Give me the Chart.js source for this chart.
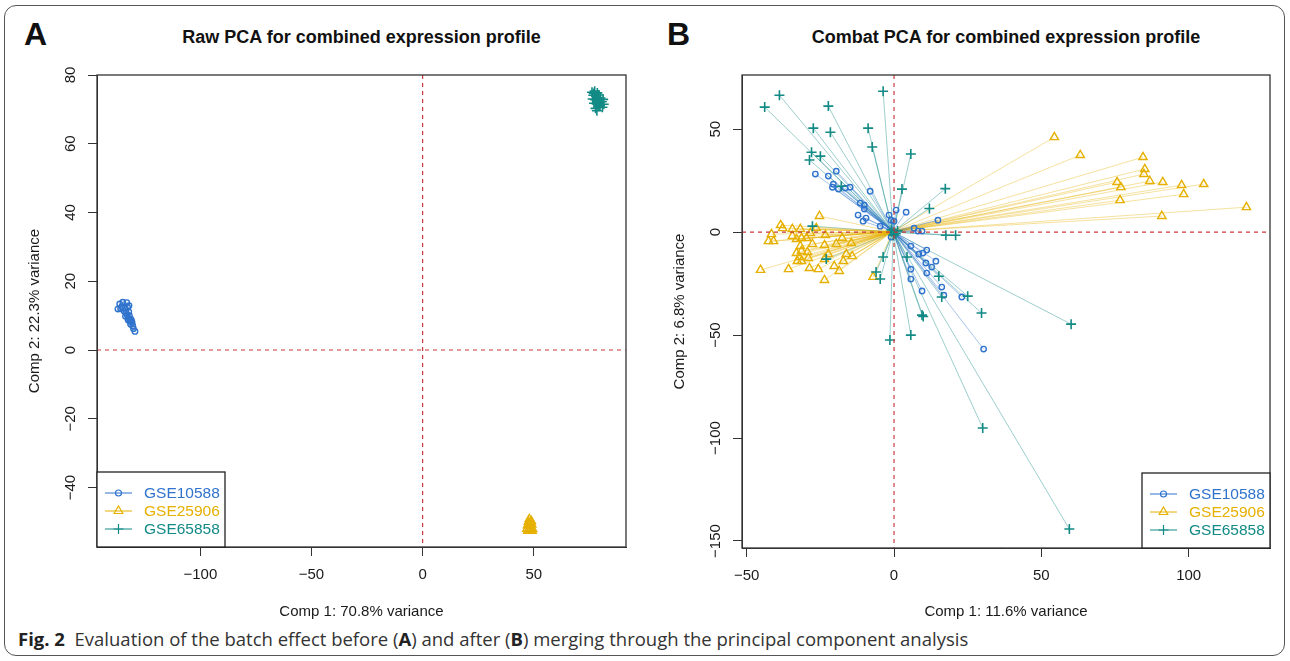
<!DOCTYPE html>
<html>
<head>
<meta charset="utf-8">
<script src="https://cdn.jsdelivr.net/npm/chart.js@4.4.1/dist/chart.umd.min.js"></script>
<style>
  body { margin: 0; background: #fff; width: 1290px; height: 661px; overflow: hidden; position: relative; font-family: "Liberation Sans", Arial, sans-serif; color: #111; }
  .frame { position: absolute; left: 4px; top: 5px; width: 1281px; height: 651px; border: 1.5px solid #555; border-radius: 12px; box-sizing: border-box; }
  .panel { position: absolute; top: 0; width: 645px; height: 625px; }
  .letter { position: absolute; top: 16px; font-weight: bold; font-size: 32px; }
  .title { position: absolute; top: 27px; font-weight: bold; font-size: 18px; text-align: center; }
  .caption { position: absolute; left: 18px; top: 626px; font-family: "Open Sans", sans-serif; font-size: 18.5px; color: #333; white-space: nowrap; }
  .caption b { color: #222; }
</style>
</head>
<body>
<div class="frame"></div>
<div class="letter" style="left:24px">A</div>
<div class="letter" style="left:667px">B</div>
<div class="title" style="left:97px;width:529px">Raw PCA for combined expression profile</div>
<div class="title" style="left:742px;width:528px">Combat PCA for combined expression profile</div>
<div class="panel" style="left:0"><canvas id="rawChart"></canvas></div>
<div class="panel" style="left:645px"><canvas id="combatChart"></canvas></div>
<div class="caption"><b>Fig. 2</b>&nbsp; Evaluation of the batch effect before (<b>A</b>) and after (<b>B</b>) merging through the principal component analysis</div>

<script>
// groups + colours
const groups = ["GSE10588", "GSE25906", "GSE65858"];
const groupColors = ["#2F73CD", "#E6B000", "#128A85"];
const groupLineColors = ["rgba(47,115,205,0.42)", "rgba(230,176,0,0.38)", "rgba(18,138,133,0.42)"];
const groupStyles = ["circle", "triangle", "cross"];

// --- Raw PCA (panel A) ---
const rawXLabel = "Comp 1: 70.8% variance";
const rawYLabel = "Comp 2: 22.3% variance";
const rawXTicks = [-100, -50, 0, 50];
const rawYTicks = [-40, -20, 0, 20, 40, 60, 80];
const rawXRange = [-146.5, 91.5];
const rawYRange = [-57.3, 80];
const rawCentroids = [[-133.0, 10.2], [48.3, -51.3], [78.6, 72.6]];
const rawBlue = [[-137.1,11.9],[-136.3,13.4],[-134.9,13.9],[-133.1,13.8],[-135.4,12.6],[-134.0,12.2],[-132.7,12.4],[-134.3,11.3],[-133.4,10.9],[-132.2,11.1],[-133.0,10.2],[-131.9,10.0],[-133.7,9.8],[-132.4,9.3],[-131.3,9.0],[-131.7,8.4],[-130.7,8.0],[-132.5,8.7],[-131.4,7.5],[-130.4,7.0],[-130.1,6.2],[-129.4,5.4],[-131.0,8.6],[-132.1,12.9],[-135.9,12.0]];
const rawYellow = [[48.0,-49.2],[47.6,-50.0],[48.6,-50.1],[47.2,-51.0],[48.2,-51.0],[49.1,-50.8],[46.9,-52.0],[47.8,-52.0],[48.7,-51.9],[49.5,-52.1],[47.3,-52.6],[48.3,-52.5],[49.2,-52.6],[48.9,-49.8],[47.9,-50.6]];
const rawTeal = [[76.2,75.0],[77.4,75.3],[78.6,74.8],[76.8,74.1],[78.0,73.9],[79.3,74.2],[76.5,73.0],[77.6,72.8],[78.8,73.1],[80.0,73.3],[77.1,71.8],[78.3,71.6],[79.5,72.0],[80.6,72.2],[81.5,71.5],[80.9,70.6],[79.2,70.9],[77.8,70.3],[78.4,69.6],[81.2,72.9],[77.0,74.6],[79.8,71.2]];

// --- Combat PCA (panel B) ---
const combatXLabel = "Comp 1: 11.6% variance";
const combatYLabel = "Comp 2: 6.8% variance";
const combatXTicks = [-50, 0, 50, 100];
const combatYTicks = [-150, -100, -50, 0, 50];
const combatXRange = [-51.6, 127.6];
const combatYRange = [-153.4, 76.3];
const combatCentroids = [[-0.4, 0.4], [-0.6, 0.2], [-0.3, 0.0]];
const combatBlue = [[-26.7,28.2],[-22.3,27.2],[-19.6,29.6],[-20.6,23.3],[-20.9,21.8],[-18.9,20.9],[-16.6,21.4],[-14.9,21.8],[-8.1,19.9],[-11.5,14.1],[-10.1,13.1],[-10.1,11.2],[-12.2,8.3],[-9.5,6.8],[-10.5,5.3],[-1.7,8.3],[0.7,10.7],[4.1,9.7],[-4.7,2.9],[-1.0,5.8],[0.0,5.3],[14.9,5.8],[6.8,1.9],[8.1,0.5],[9.5,0.5],[-1.0,-2.4],[5.7,-6.8],[8.4,-10.7],[9.8,-10.2],[11.1,-8.7],[10.8,-15.0],[12.8,-17.0],[14.2,-14.1],[5.7,-18.0],[11.1,-19.9],[5.7,-22.8],[16.2,-26.7],[9.5,-28.6],[16.9,-30.6],[23.0,-31.5],[30.4,-56.8]];
const combatYellow = [[54.4,46.1],[63.2,37.4],[84.5,36.4],[85.1,30.6],[84.8,28.2],[75.7,24.3],[77.0,21.8],[86.8,24.8],[91.2,24.3],[97.6,22.8],[105.1,23.3],[98.3,18.4],[76.7,15.5],[119.6,12.1],[90.9,7.8],
  [-25.3,7.8],[-38.5,3.4],[-37.8,1.9],[-34.5,1.5],[-31.8,1.5],[-26.4,1.9],[-41.6,-1.0],[-42.6,-4.4],[-40.9,-4.4],[-34.5,-1.9],[-31.4,-2.9],[-28.4,-0.5],[-23.3,-1.5],[-33.1,-3.4],[-29.7,-2.9],[-27.7,-5.8],[-23.6,-6.3],[-19.6,-5.8],[-17.6,-2.9],[-14.5,-5.3],[-31.8,-6.8],[-31.4,-9.2],[-33.1,-10.2],[-32.1,-12.1],[-29.4,-9.7],[-29.1,-12.6],[-32.8,-14.1],[-31.4,-14.1],[-23.6,-13.1],[-22.3,-10.7],[-16.2,-10.7],[-14.2,-11.7],[-17.2,-14.1],[-45.3,-18.4],[-35.8,-18.0],[-28.7,-17.5],[-25.7,-18.0],[-20.3,-16.5],[-18.6,-18.9],[-23.6,-23.3],[-7.1,-21.8]];
const combatTeal = [[-43.9,60.7],[-38.9,66.5],[-22.3,61.2],[-3.7,68.4],[-27.4,50.5],[-21.6,48.5],[-8.8,50.5],[-7.4,41.3],[5.7,37.9],[-28.0,38.8],[-28.7,35.0],[-25.0,36.9],[2.7,20.9],[17.4,21.1],[12.0,11.5],[-17.9,22.3],[-27.7,2.9],[17.6,-1.5],[20.9,-1.5],[-23.0,-13.1],[-3.7,-12.1],[-6.1,-19.4],[-4.7,-22.8],[4.4,-12.1],[15.2,-21.4],[16.2,-31.5],[25.0,-31.1],[29.7,-39.3],[9.5,-40.3],[9.9,-41.0],[5.7,-50.0],[-1.4,-52.4],[60.1,-44.7],[30.1,-95.1],[59.5,-144.2],[0.6,-0.8],[-0.9,1.1],[1.2,0.6],[-0.2,-1.6]];

const refLineColor = "#C8393B";
const axisFont = "'Liberation Sans', Arial, sans-serif";
const minus = v => v < 0 ? "\u2212" + Math.abs(v) : String(v);

function markerPath(ctx, style, x, y, r) {
  ctx.beginPath();
  if (style === "circle") {
    ctx.arc(x, y, r, 0, Math.PI * 2);
  } else if (style === "triangle") {
    ctx.moveTo(x, y - r);
    ctx.lineTo(x + r * 0.87, y + r * 0.5);
    ctx.lineTo(x - r * 0.87, y + r * 0.5);
    ctx.closePath();
  } else {
    ctx.moveTo(x - r, y); ctx.lineTo(x + r, y);
    ctx.moveTo(x, y - r); ctx.lineTo(x, y + r);
  }
  ctx.stroke();
}

// red dashed zero lines, frame box, rotated y labels, R style legend
const rDecor = {
  id: "rDecor",
  afterDatasetsDraw(chart, args, opts) {
    const { ctx, chartArea: a, scales } = chart;
    ctx.save();
    ctx.strokeStyle = refLineColor;
    ctx.lineWidth = 1.2;
    ctx.setLineDash([4, 4]);
    const x0 = scales.x.getPixelForValue(0), y0 = scales.y.getPixelForValue(0);
    ctx.beginPath();
    ctx.moveTo(x0, a.top); ctx.lineTo(x0, a.bottom);
    ctx.moveTo(a.left, y0); ctx.lineTo(a.right, y0);
    ctx.stroke();
    ctx.setLineDash([]);

    ctx.strokeStyle = "#333";
    ctx.lineWidth = 1.3;
    ctx.strokeRect(a.left, a.top, a.right - a.left, a.bottom - a.top);

    // y tick labels, parallel to the axis
    ctx.fillStyle = "#1a1a1a";
    ctx.font = "15px " + axisFont;
    ctx.textAlign = "center";
    ctx.textBaseline = "middle";
    scales.y.ticks.forEach(t => {
      const py = scales.y.getPixelForValue(t.value);
      ctx.save();
      ctx.translate(a.left - 26, py);
      ctx.rotate(-Math.PI / 2);
      ctx.fillText(minus(t.value), 0, 0);
      ctx.restore();
    });

    // legend
    const w = 128, h = 75;
    const bx = opts.corner === "bottomleft" ? a.left : a.right - w;
    const by = a.bottom - h;
    ctx.fillStyle = "#fff";
    ctx.fillRect(bx, by, w, h);
    ctx.strokeStyle = "#222";
    ctx.lineWidth = 1.3;
    ctx.strokeRect(bx, by, w, h);
    ctx.font = "15.5px " + axisFont;
    ctx.textAlign = "left";
    groups.forEach((g, i) => {
      const ly = by + 21 + i * 18;
      ctx.strokeStyle = groupColors[i];
      ctx.lineWidth = 1;
      ctx.beginPath();
      ctx.moveTo(bx + 8, ly); ctx.lineTo(bx + 35, ly);
      ctx.stroke();
      ctx.lineWidth = 1.2;
      markerPath(ctx, groupStyles[i], bx + 21.5, ly, i === 0 ? 3 : 5);
      ctx.fillStyle = groupColors[i];
      ctx.fillText(g, bx + 47, ly + 1);
    });
    ctx.restore();
  }
};

function starData(center, pts) {
  const out = [];
  pts.forEach(p => {
    out.push({ x: center[0], y: center[1] }, { x: p[0], y: p[1] }, { x: null, y: null });
  });
  return out;
}

function makePanel(id, o) {
  const sets = [o.blue, o.yellow, o.teal];
  const datasets = [];
  sets.forEach((pts, i) => {
    datasets.push({
      label: groups[i] + " lines",
      data: starData(o.centroids[i], pts),
      showLine: true,
      spanGaps: false,
      borderColor: groupLineColors[i],
      borderWidth: 1,
      pointRadius: 0,
      segment: {},
      order: 10
    });
  });
  sets.forEach((pts, i) => {
    datasets.push({
      label: groups[i],
      data: pts.map(p => ({ x: p[0], y: p[1] })),
      pointStyle: groupStyles[i],
      pointRadius: [2.7, 4.8, 5][i],
      pointBorderWidth: [1.4, 1.4, 1.6][i],
      pointBorderColor: groupColors[i],
      pointBackgroundColor: "rgba(0,0,0,0)",
      showLine: false,
      order: 2 - i
    });
  });
  // centroid marker of the last group
  const c = o.centroids[2];
  datasets.push({
    label: "centroid",
    data: [{ x: c[0], y: c[1] }],
    pointStyle: "rect",
    pointRadius: 4,
    pointBorderWidth: 1.6,
    pointBorderColor: groupColors[2],
    pointBackgroundColor: "rgba(18,138,133,0.25)",
    showLine: false,
    order: -1
  });

  const axisCommon = {
    type: "linear",
    grid: { drawOnChartArea: false, drawTicks: true, tickLength: 9, color: "#333" },
    border: { display: true, color: "#333", width: 1 }
  };

  new Chart(document.getElementById(id), {
    type: "scatter",
    data: { datasets },
    plugins: [rDecor],
    options: {
      responsive: true,
      maintainAspectRatio: false,
      animation: false,
      layout: { padding: { top: 75, right: o.padRight, left: 0, bottom: 0 } },
      plugins: {
        legend: { display: false },
        tooltip: { enabled: false },
        rDecor: { corner: o.legendCorner }
      },
      scales: {
        x: {
          ...axisCommon,
          min: o.xRange[0], max: o.xRange[1],
          afterBuildTicks: s => { s.ticks = o.xTicks.map(v => ({ value: v })); },
          afterFit: s => { s.height = o.xHeight; },
          ticks: {
            padding: 10, color: "#1a1a1a",
            font: { family: axisFont, size: 15 },
            maxRotation: 0, autoSkip: false,
            callback: v => minus(v)
          },
          title: {
            display: true, text: o.xLabel, color: "#1a1a1a",
            font: { family: axisFont, size: 15 },
            padding: { top: 0, bottom: 4 }
          }
        },
        y: {
          ...axisCommon,
          min: o.yRange[0], max: o.yRange[1],
          afterBuildTicks: s => { s.ticks = o.yTicks.map(v => ({ value: v })); },
          afterFit: s => { s.width = 97; },
          ticks: { display: false },
          title: {
            display: true, text: o.yLabel, color: "#1a1a1a",
            font: { family: axisFont, size: 15 },
            padding: { top: 26, bottom: 0 }
          }
        }
      }
    }
  });
}

makePanel("rawChart", {
  blue: rawBlue, yellow: rawYellow, teal: rawTeal, centroids: rawCentroids,
  xRange: rawXRange, yRange: rawYRange, xTicks: rawXTicks, yTicks: rawYTicks,
  xLabel: rawXLabel, yLabel: rawYLabel,
  padRight: 19, xHeight: 78, legendCorner: "bottomleft"
});

makePanel("combatChart", {
  blue: combatBlue, yellow: combatYellow, teal: combatTeal, centroids: combatCentroids,
  xRange: combatXRange, yRange: combatYRange, xTicks: combatXTicks, yTicks: combatYTicks,
  xLabel: combatXLabel, yLabel: combatYLabel,
  padRight: 20, xHeight: 77, legendCorner: "bottomright"
});
</script>
</body>
</html>
